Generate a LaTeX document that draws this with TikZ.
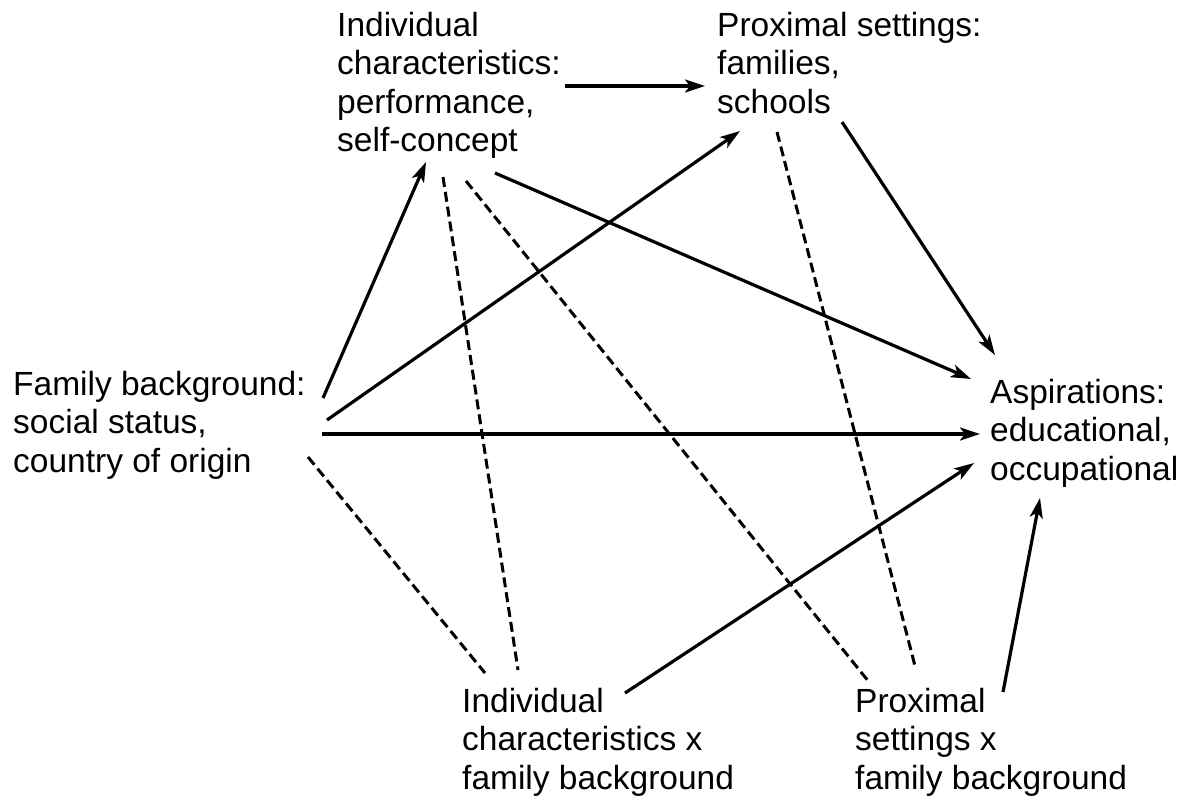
\documentclass[tikz,border=0pt]{standalone}
\usepackage{fontspec}
\setmainfont{Liberation Sans}
\usetikzlibrary{positioning, arrows.meta}
\tikzset{
  lbl/.style={anchor=north west, align=left, inner sep=0pt, font=\fontsize{33.5}{38.3}\selectfont},
  eff/.style={->, line width=3.2pt},
  ixn/.style={line width=3pt, dash pattern=on 10pt off 5pt},
}

\begin{document}
\begin{tikzpicture}[x=1pt, y=-1pt, >={Stealth[length=20pt, width=13pt, inset=5pt]}]
  \useasboundingbox (0,0) rectangle (1194,798);
  \node[lbl] (ic) at (337,12) {Individual\\characteristics:\\performance,\\self-concept};
  \node[lbl] (ps) at (717,12) {Proximal settings:\\families,\\schools};
  \node[lbl] (fb) at (13,371) {Family background:\\social status,\\country of origin};
  \node[lbl] (asp) at (990,379) {Aspirations:\\educational,\\occupational};
  \node[lbl] (icfb) at (462,688) {Individual\\characteristics x\\family background};
  \node[lbl] (psfb) at (855,688) {Proximal\\settings x\\family background};
  % direct effects
  \draw[eff] ([shift={(228,74)}]ic.north west) -- ([shift={(-12,74)}]ps.north west);
  \draw[eff] ([shift={(310,27)}]fb.north west) -- ([shift={(89,150)}]ic.north west);
  \draw[eff] ([shift={(314,49)}]fb.north west) -- ([shift={(23,119)}]ps.north west);
  \draw[eff] ([shift={(309,63)}]fb.north west) -- ([shift={(-10,55)}]asp.north west);
  \draw[eff] ([shift={(158,161)}]ic.north west) -- ([shift={(-19,0)}]asp.north west);
  \draw[eff] ([shift={(125,110)}]ps.north west) -- ([shift={(5,-24)}]asp.north west);
  \draw[eff] ([shift={(163,5)}]icfb.north west) -- ([shift={(-16,84)}]asp.north west);
  \draw[eff] ([shift={(148,4)}]psfb.north west) -- ([shift={(50,119)}]asp.north west);
  % interaction terms
  \draw[ixn] ([shift={(295,86)}]fb.north west) -- ([shift={(23,-15)}]icfb.north west);
  \draw[ixn] ([shift={(106,165)}]ic.north west) -- ([shift={(56,-18)}]icfb.north west);
  \draw[ixn] ([shift={(129,169)}]ic.north west) -- ([shift={(14,-6)}]psfb.north west);
  \draw[ixn] ([shift={(60,120)}]ps.north west) -- ([shift={(60,-22)}]psfb.north west);
\end{tikzpicture}
\end{document}
